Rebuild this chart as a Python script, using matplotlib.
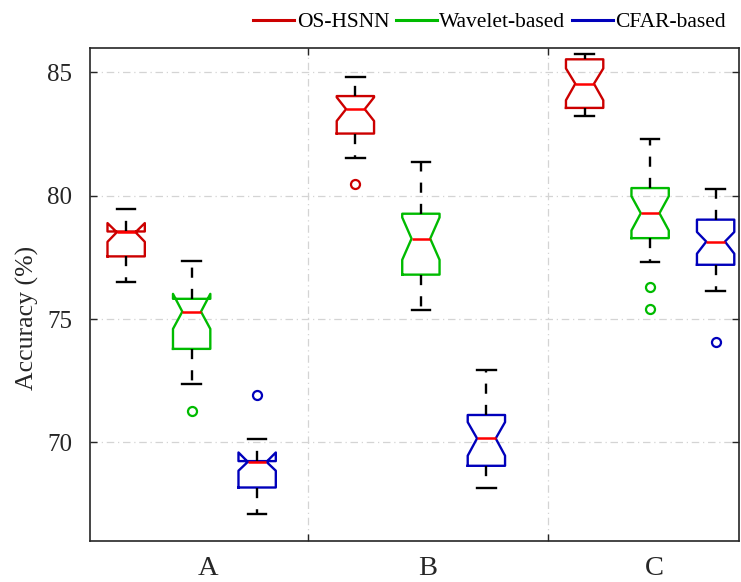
import matplotlib
matplotlib.use("Agg")
import matplotlib.pyplot as plt
from matplotlib.lines import Line2D

plt.rcParams["font.family"] = ["Liberation Serif", "DejaVu Serif"]

# ---- data -------------------------------------------------------------
groups = ["A", "B", "C"]
methods = ["OS-HSNN", "Wavelet-based", "CFAR-based"]

# each row: one group (A, B, C); each column: one method
whislo = [[76.49, 72.37, 67.11],
          [81.51, 75.35, 68.17],
          [83.22, 77.31, 76.12]]
q1 = [[77.54, 73.79, 68.17],
      [82.52, 76.80, 69.05],
      [83.56, 78.28, 77.20]]
ci_lo = [[78.13, 74.60, 68.85],
         [83.03, 77.40, 69.46],
         [83.87, 78.59, 77.65]]
median = [[78.52, 75.30, 69.21],
          [83.51, 78.26, 70.16],
          [84.54, 79.29, 78.14]]
ci_hi = [[78.89, 76.02, 69.59],
         [83.99, 79.12, 70.82],
         [85.16, 79.98, 78.53]]
q3 = [[78.55, 75.82, 69.24],
      [84.04, 79.27, 71.11],
      [85.53, 80.31, 79.03]]
whishi = [[79.45, 77.34, 70.12],
          [84.82, 81.37, 72.94],
          [85.73, 82.28, 80.26]]
outliers = [[[], [71.26], [71.93]],
            [[80.49], [], []],
            [[], [76.29, 75.40], [74.06]]]

yticks = [70, 75, 80, 85]

# ---- style ------------------------------------------------------------
box_colors = ["#CC0000", "#00BB00", "#0000BB"]
median_color = "#FF0000"
axis_color = "#262626"
grid_color = "#D4D4D4"

fig = plt.figure(figsize=(7.41, 5.82), dpi=100)
ax = fig.add_axes([0.1219, 0.0704, 0.8754, 0.8476])

box_width = 0.57
group_step = 3.5

for g in range(len(groups)):
    for k in range(len(methods)):
        pos = g * group_step + k + 1
        stats = [dict(whislo=whislo[g][k], q1=q1[g][k], med=median[g][k],
                      q3=q3[g][k], whishi=whishi[g][k],
                      cilo=ci_lo[g][k], cihi=ci_hi[g][k],
                      fliers=outliers[g][k])]
        c = box_colors[k]
        ax.bxp(stats, positions=[pos], widths=box_width, shownotches=True,
               manage_ticks=False,
               boxprops=dict(color=c, linewidth=1.7),
               medianprops=dict(color=median_color, linewidth=1.8),
               whiskerprops=dict(color="black", linewidth=1.7,
                                 linestyle=(0, (4.3, 4.7))),
               capprops=dict(color="black", linewidth=1.7),
               flierprops=dict(marker="o", markerfacecolor="none",
                               markeredgecolor=c, markersize=6.5,
                               markeredgewidth=1.6, linestyle="none"))

ax.set_xlim(0.453, 10.357)
ax.set_ylim(66, 86)

# group separators and horizontal grid
separators = [3.77, 7.44]
ax.set_xticks(separators)
ax.set_xticklabels([])
ax.set_yticks(yticks)
ax.set_yticklabels([str(t) for t in yticks])
ax.grid(True, color=grid_color, linestyle=(0, (6, 3, 1, 3)), linewidth=0.9)
ax.set_axisbelow(True)

ax.tick_params(axis="both", direction="in", length=5, width=1.0,
               color=axis_color, top=True, right=True)
ax.tick_params(axis="y", labelsize=18, labelcolor=axis_color, pad=13)
for s in ax.spines.values():
    s.set_color(axis_color)
    s.set_linewidth(1.2)

# group names under the axis
label_x = [2.25, 5.6, 9.06]
for x, name in zip(label_x, groups):
    ax.text(x, -0.069, name, transform=ax.get_xaxis_transform(),
            ha="center", va="baseline", fontsize=20.5, color=axis_color)

ax.text(-0.0964, 0.452, "Accuracy (%)", transform=ax.transAxes,
        rotation=90, ha="center", va="center", fontsize=18.5,
        color=axis_color)

handles = [Line2D([], [], color=c, linewidth=2.2) for c in box_colors]
fig.legend(handles, methods, loc="center", bbox_to_anchor=(0.661, 0.962),
           ncol=3, frameon=False, fontsize=15.5, handlelength=1.9,
           handletextpad=0.12, columnspacing=0.3)

fig.savefig("out.png", dpi=100)
